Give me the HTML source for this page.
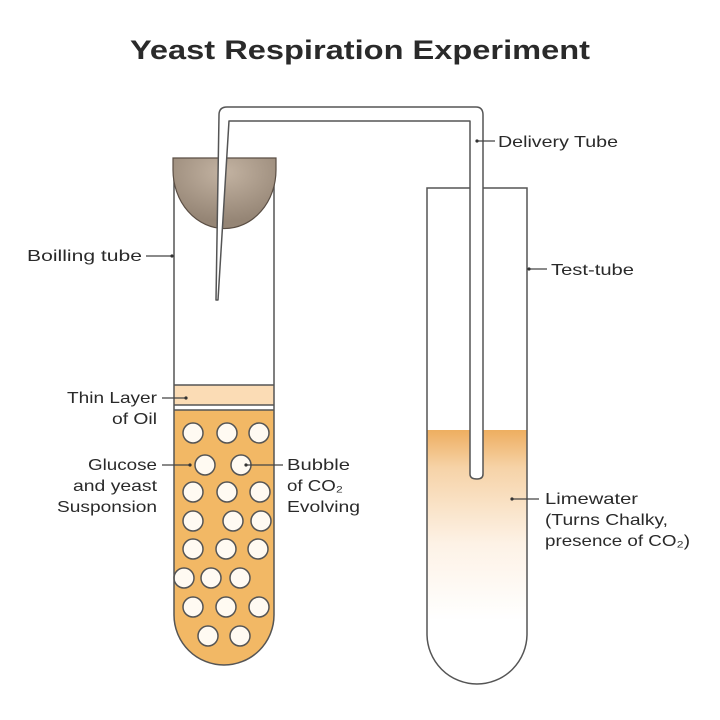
<!DOCTYPE html>
<html><head><style>
html,body{margin:0;padding:0;background:#fff;}
svg{display:block;}
text{font-family:"Liberation Sans",sans-serif;fill:#2a2a2a;}
</style></head><body>
<svg width="720" height="720" viewBox="0 0 720 720" xmlns="http://www.w3.org/2000/svg">
<defs>
<linearGradient id="lime" x1="0" y1="0" x2="0" y2="1">
<stop offset="0" stop-color="#eeae60"/>
<stop offset="0.15" stop-color="#f6d3a8"/>
<stop offset="0.45" stop-color="#fdf2e6"/>
<stop offset="0.75" stop-color="#ffffff"/>
</linearGradient>
<radialGradient id="stop" cx="0.5" cy="0.2" r="0.7">
<stop offset="0" stop-color="#c3b3a2"/>
<stop offset="1" stop-color="#958575"/>
</radialGradient>
</defs>
<text x="360" y="59" text-anchor="middle" font-size="27" font-weight="bold" fill="#111" textLength="460" lengthAdjust="spacingAndGlyphs">Yeast Respiration Experiment</text>

<path d="M174 410 L274 410 L274 615 A50 50 0 0 1 174 615 Z" fill="#f2b865"/>
<rect x="174" y="385" width="100" height="20" fill="#fbdcb5"/>
<line x1="174" y1="385" x2="274" y2="385" stroke="#555" stroke-width="1.5"/>
<line x1="174" y1="405" x2="274" y2="405" stroke="#555" stroke-width="1.5"/>
<line x1="174" y1="410" x2="274" y2="410" stroke="#555" stroke-width="1.5"/>
<g fill="#fffaf2" stroke="#555" stroke-width="1.5">
<circle cx="193" cy="433" r="10"/><circle cx="227" cy="433" r="10"/><circle cx="259" cy="433" r="10"/>
<circle cx="205" cy="465" r="10"/><circle cx="241" cy="465" r="10"/>
<circle cx="193" cy="492" r="10"/><circle cx="227" cy="492" r="10"/><circle cx="260" cy="492" r="10"/>
<circle cx="193" cy="521" r="10"/><circle cx="233" cy="521" r="10"/><circle cx="261" cy="521" r="10"/>
<circle cx="193" cy="549" r="10"/><circle cx="226" cy="549" r="10"/><circle cx="258" cy="549" r="10"/>
<circle cx="184" cy="578" r="10"/><circle cx="211" cy="578" r="10"/><circle cx="240" cy="578" r="10"/>
<circle cx="193" cy="607" r="10"/><circle cx="226" cy="607" r="10"/><circle cx="259" cy="607" r="10"/>
<circle cx="208" cy="636" r="10"/><circle cx="240" cy="636" r="10"/>
</g>
<path d="M174 158 L174 615 A50 50 0 0 0 274 615 L274 158" fill="none" stroke="#555" stroke-width="1.5"/>
<path d="M173 158 L276 158 L276 170 A51 58 0 0 1 173 170 Z" fill="url(#stop)" stroke="#5a4e44" stroke-width="1.2"/>

<path d="M427 430 L527 430 L527 634 A50 50 0 0 1 427 634 Z" fill="url(#lime)"/>
<path d="M427 188 L427 634 A50 50 0 0 0 527 634 L527 188 Z" fill="none" stroke="#555" stroke-width="1.5"/>

<path d="M216 300 L219 115 Q219 107 227 107 L476 107 Q483 107 483 115 L483 474 Q483 479 477 479 Q470 479 470 474 L470 121 L229 121 L218 300 Z" fill="#fff" stroke="#555" stroke-width="1.5" stroke-linejoin="round"/>

<g font-size="16" lengthAdjust="spacingAndGlyphs">
<text x="27" y="261" textLength="115" lengthAdjust="spacingAndGlyphs">Boilling tube</text>
<line x1="146" y1="256" x2="172" y2="256" stroke="#444" stroke-width="1.2"/>
<text x="498" y="147" textLength="120" lengthAdjust="spacingAndGlyphs">Delivery Tube</text>
<line x1="477" y1="141" x2="495" y2="141" stroke="#444" stroke-width="1.2"/>
<text x="551" y="275" textLength="83" lengthAdjust="spacingAndGlyphs">Test-tube</text>
<line x1="529" y1="269" x2="547" y2="269" stroke="#444" stroke-width="1.2"/>
<text x="67" y="403" textLength="90" lengthAdjust="spacingAndGlyphs">Thin Layer</text>
<text x="112" y="424" textLength="45" lengthAdjust="spacingAndGlyphs">of Oil</text>
<line x1="162" y1="398" x2="186" y2="398" stroke="#444" stroke-width="1.2"/>
<text x="88" y="470" textLength="69" lengthAdjust="spacingAndGlyphs">Glucose</text>
<text x="73" y="491" textLength="84" lengthAdjust="spacingAndGlyphs">and yeast</text>
<text x="57" y="512" textLength="100" lengthAdjust="spacingAndGlyphs">Susponsion</text>
<line x1="162" y1="465" x2="190" y2="465" stroke="#444" stroke-width="1.2"/>
<text x="287" y="470" textLength="63" lengthAdjust="spacingAndGlyphs">Bubble</text>
<text x="287" y="491" textLength="56" lengthAdjust="spacingAndGlyphs">of CO₂</text>
<text x="287" y="512" textLength="73" lengthAdjust="spacingAndGlyphs">Evolving</text>
<line x1="246" y1="465" x2="283" y2="465" stroke="#444" stroke-width="1.2"/>
<text x="545" y="504" textLength="93" lengthAdjust="spacingAndGlyphs">Limewater</text>
<text x="545" y="525" textLength="123" lengthAdjust="spacingAndGlyphs">(Turns Chalky,</text>
<text x="545" y="546" textLength="145" lengthAdjust="spacingAndGlyphs">presence of CO₂)</text>
<line x1="512" y1="499" x2="539" y2="499" stroke="#444" stroke-width="1.2"/>
</g>
<g fill="#333">
<circle cx="172" cy="256" r="1.6"/><circle cx="477" cy="141" r="1.6"/><circle cx="529" cy="269" r="1.6"/>
<circle cx="186" cy="398" r="1.6"/><circle cx="190" cy="465" r="1.6"/><circle cx="246" cy="465" r="1.6"/><circle cx="512" cy="499" r="1.6"/>
</g>
</svg>
</body></html>
